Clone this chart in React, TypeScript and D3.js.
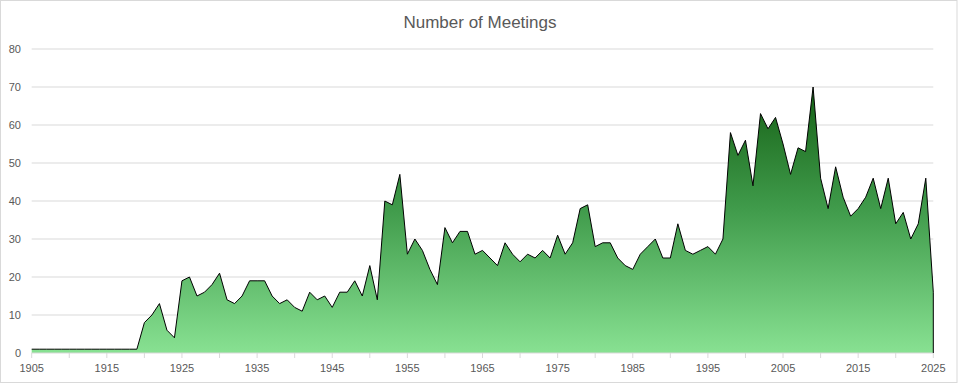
import React, { useEffect } from "react";
import * as d3 from "d3";

const startYear = 1905;
const endYear = 2025;
const meetings: number[] = [
  // 1905-1919
  1, 1, 1, 1, 1, 1, 1, 1, 1, 1, 1, 1, 1, 1, 1,
  // 1920-1929
  8, 10, 13, 6, 4, 19, 20, 15, 16, 18,
  // 1930-1939
  21, 14, 13, 15, 19, 19, 19, 15, 13, 14,
  // 1940-1949
  12, 11, 16, 14, 15, 12, 16, 16, 19, 15,
  // 1950-1959
  23, 14, 40, 39, 47, 26, 30, 27, 22, 18,
  // 1960-1969
  33, 29, 32, 32, 26, 27, 25, 23, 29, 26,
  // 1970-1979
  24, 26, 25, 27, 25, 31, 26, 29, 38, 39,
  // 1980-1989
  28, 29, 29, 25, 23, 22, 26, 28, 30, 25,
  // 1990-1999
  25, 34, 27, 26, 27, 28, 26, 30, 58, 52,
  // 2000-2009
  56, 44, 63, 59, 62, 55, 47, 54, 53, 70,
  // 2010-2019
  46, 38, 49, 41, 36, 38, 41, 46, 38, 46,
  // 2020-2025
  34, 37, 30, 34, 46, 16,
];
const years: number[] = meetings.map((_, i) => startYear + i);
const yTicks: number[] = [0, 10, 20, 30, 40, 50, 60, 70, 80];
const xLabelYears: number[] = d3.range(1905, 2026, 10);
const xTickYears: number[] = d3.range(1905, 2026, 5);
const title = "Number of Meetings";

const W = 960;
const H = 384;
const FONT = "'Liberation Sans Narrow', 'Arial Narrow', 'Liberation Sans', sans-serif";

export default function App() {
  useEffect(() => {
    document.body.style.margin = "0";
  }, []);

  const x = d3.scaleLinear().domain([startYear, endYear]).range([31.7, 933.3]);
  const y = d3.scaleLinear().domain([0, 80]).range([353, 49]);

  const data = years.map((yr, i) => ({ yr, v: meetings[i] }));
  const area = d3
    .area<{ yr: number; v: number }>()
    .x((d) => x(d.yr))
    .y0(y(0))
    .y1((d) => y(d.v));
  const line = d3
    .line<{ yr: number; v: number }>()
    .x((d) => x(d.yr))
    .y((d) => y(d.v));
  const last = data[data.length - 1];
  const outline = (line(data) || "") + `L${x(last.yr)},${y(0)}`;

  const maxV = d3.max(meetings) as number;

  return (
    <div style={{ position: "absolute", left: 0, top: 0 }}>
      <svg width={W} height={H} style={{ display: "block", background: "#fff" }}>
        <defs>
          <linearGradient
            id="grad"
            gradientUnits="userSpaceOnUse"
            x1={0}
            x2={0}
            y1={y(maxV)}
            y2={y(0)}
          >
            <stop offset="0%" stopColor="#166116" />
            <stop offset="45%" stopColor="#3f9a4a" />
            <stop offset="100%" stopColor="#88e192" />
          </linearGradient>
        </defs>
        <rect x={0.5} y={0.5} width={956.5} height={382} fill="#fff" stroke="#d9d9d9" />
        <text
          x={480}
          y={28}
          textAnchor="middle"
          fontFamily={FONT}
          fontSize={17}
          fill="#595959"
        >
          {title}
        </text>
        {yTicks.map((t) => (
          <g key={t}>
            {t > 0 && (
              <line x1={31.7} x2={933.3} y1={y(t)} y2={y(t)} stroke="#d9d9d9" strokeWidth={1} />
            )}
            <text
              x={21}
              y={y(t) + 4}
              textAnchor="end"
              fontFamily={FONT}
              fontSize={11}
              fill="#595959"
            >
              {t}
            </text>
          </g>
        ))}
        <path d={area(data) || ""} fill="url(#grad)" />
        <line x1={31.7} x2={933.3} y1={y(0)} y2={y(0)} stroke="#d9d9d9" strokeWidth={1} />
        {xTickYears.map((yr) => (
          <line key={yr} x1={x(yr)} x2={x(yr)} y1={y(0)} y2={y(0) + 5} stroke="#d9d9d9" />
        ))}
        <path d={outline} fill="none" stroke="#000" strokeWidth={1} strokeLinejoin="miter" />
        {xLabelYears.map((yr) => (
          <text
            key={yr}
            x={x(yr)}
            y={372}
            textAnchor="middle"
            fontFamily={FONT}
            fontSize={11}
            fill="#595959"
          >
            {yr}
          </text>
        ))}
      </svg>
    </div>
  );
}
